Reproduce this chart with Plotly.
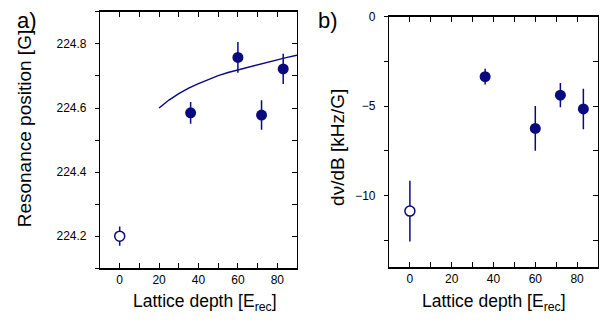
import plotly.graph_objects as go

NAVY = "#0a0a80"

# Panel a: resonance position
depth_open = [0]
res_open = [224.20]
res_open_err = [0.03]
depth_a = [36, 60, 72, 83]
res_a = [224.585, 224.758, 224.578, 224.722]
res_a_err = [0.034, 0.048, 0.046, 0.047]

fit_x = [20, 25, 30, 35, 40, 45, 50, 55, 60, 65, 70, 75, 80, 85, 90]
fit_y = [224.600, 224.625, 224.645, 224.662, 224.676, 224.689, 224.701, 224.711,
         224.719, 224.728, 224.736, 224.744, 224.751, 224.758, 224.765]

# Panel b: dnu/dB
dnu_open = [-10.86]
dnu_open_err = [1.7]
depth_b = [36, 60, 72, 83]
dnu_b = [-3.35, -6.24, -4.38, -5.15]
dnu_b_err = [0.44, 1.25, 0.68, 1.13]

x_ticks = [0, 20, 40, 60, 80]
ya_ticks = [224.2, 224.4, 224.6, 224.8]
yb_ticks = [0, -5, -10]

FONT = "Liberation Sans, Arial, sans-serif"

fig = go.Figure()

# fit curve drawn on the right-hand (mirror) axis of panel a, same range as left axis
fig.add_trace(go.Scatter(x=fit_x, y=fit_y, mode="lines", line=dict(color=NAVY, width=1.5),
                         xaxis="x", yaxis="y3", showlegend=False))
fig.add_trace(go.Scatter(x=depth_open, y=res_open, mode="markers",
                         error_y=dict(type="data", array=res_open_err, width=0, thickness=1.5, color=NAVY),
                         marker=dict(size=10, color="white", line=dict(color=NAVY, width=1.5)),
                         xaxis="x", yaxis="y", showlegend=False))
fig.add_trace(go.Scatter(x=depth_a, y=res_a, mode="markers",
                         error_y=dict(type="data", array=res_a_err, width=0, thickness=1.5, color=NAVY),
                         marker=dict(size=11, color=NAVY),
                         xaxis="x", yaxis="y", showlegend=False))

fig.add_trace(go.Scatter(x=depth_open, y=dnu_open, mode="markers",
                         error_y=dict(type="data", array=dnu_open_err, width=0, thickness=1.5, color=NAVY),
                         marker=dict(size=10, color="white", line=dict(color=NAVY, width=1.5)),
                         xaxis="x2", yaxis="y4", showlegend=False))
fig.add_trace(go.Scatter(x=depth_b, y=dnu_b, mode="markers",
                         error_y=dict(type="data", array=dnu_b_err, width=0, thickness=1.5, color=NAVY),
                         marker=dict(size=11, color=NAVY),
                         xaxis="x2", yaxis="y2", showlegend=False))

W, H = 607, 323
def px(x): return x / W
def py(y): return 1 - y / H

TF = dict(family=FONT, size=12, color="black")
xcommon = dict(showline=True, linecolor="black", linewidth=1.5, mirror="allticks",
               ticks="inside", ticklen=5, tickwidth=1.2, tickcolor="black",
               showgrid=False, zeroline=False, tickfont=TF,
               range=[-10, 90], tickvals=x_ticks,
               minor=dict(ticks="inside", ticklen=3, dtick=10, tick0=0, tickcolor="black"))
yleft = dict(showline=True, linecolor="black", linewidth=1.2, mirror=False,
             ticks="outside", ticklen=4, tickwidth=1.2, tickcolor="black",
             showgrid=False, zeroline=False, tickfont=TF, ticklabelstandoff=6)
yright = dict(showline=True, linecolor="black", linewidth=1.2, side="right",
              ticks="inside", ticklen=5, tickwidth=1.2, tickcolor="black",
              showgrid=False, zeroline=False, showticklabels=False)

def ann(text, x, y, size, angle=0, xanchor="center", yanchor="middle"):
    return dict(text=text, x=px(x), y=py(y), xref="paper", yref="paper",
                xanchor=xanchor, yanchor=yanchor, textangle=angle, showarrow=False,
                font=dict(family=FONT, size=size, color="black"))

fig.update_layout(
    width=W, height=H, margin=dict(l=0, r=0, t=0, b=0),
    paper_bgcolor="white", plot_bgcolor="white",
    xaxis=dict(domain=[px(100), px(297)], anchor="y", **xcommon),
    yaxis=dict(domain=[py(267), py(5)], range=[224.1, 224.9], tickvals=ya_ticks, anchor="x",
               tickformat=".1f",
               minor=dict(ticks="outside", ticklen=4, dtick=0.1, tick0=224.1, tickcolor="black"), **yleft),
    yaxis3=dict(overlaying="y", anchor="x", range=[224.1, 224.9], tickvals=ya_ticks,
                minor=dict(ticks="inside", ticklen=5, dtick=0.1, tick0=224.1, tickcolor="black"), **yright),
    xaxis2=dict(domain=[px(389), px(598)], anchor="y2", **xcommon),
    yaxis2=dict(domain=[py(266), py(10)], range=[-14, 0], tickvals=yb_ticks, anchor="x2",
                minor=dict(ticks="outside", ticklen=4, dtick=2.5, tick0=0, tickcolor="black"), **yleft),
    yaxis4=dict(overlaying="y2", anchor="x2", range=[-14, 0], tickvals=yb_ticks,
                minor=dict(ticks="inside", ticklen=5, dtick=2.5, tick0=0, tickcolor="black"), **yright),
    annotations=[
        ann("a)", 27, 14, 22),
        ann("b)", 328, 14, 22),
        ann("Resonance position [G]", 24, 124, 19, angle=-90),
        ann("dν/dB [kHz/G]", 338, 144, 19, angle=-90),
        ann("Lattice depth [E<sub>rec</sub>]", 205, 302, 17.5),
        ann("Lattice depth [E<sub>rec</sub>]", 494, 302, 17.5),
    ],
)

fig.write_html("out.html", config={"displayModeBar": False},
               post_script="document.body.style.margin='0px';")
